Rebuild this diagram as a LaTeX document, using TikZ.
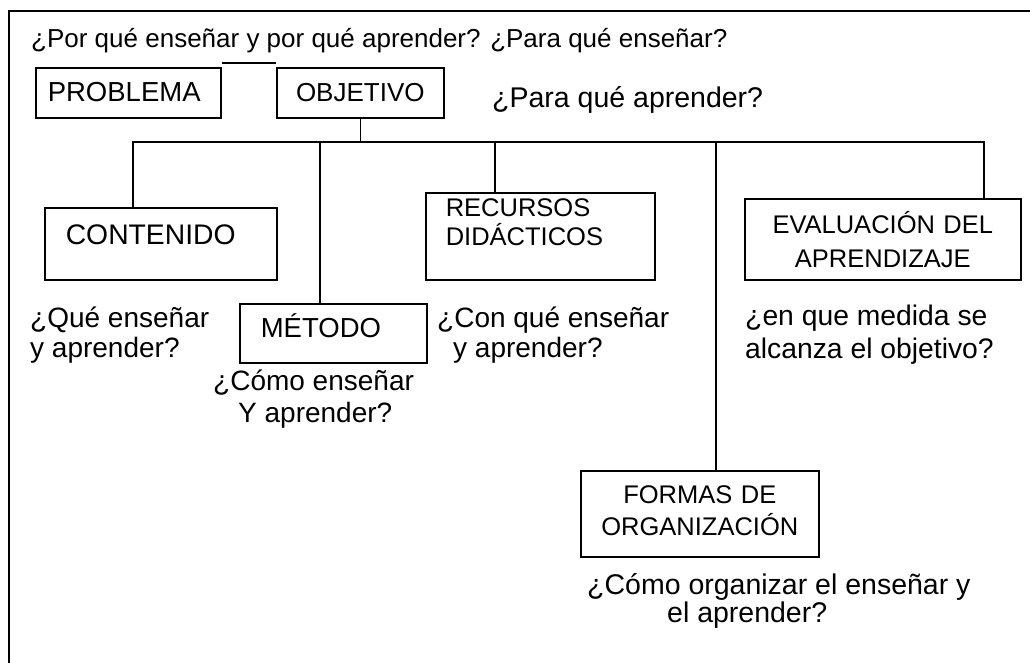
\documentclass[tikz,border=0pt]{standalone}
\usepackage{fontspec}
\setmainfont{Liberation Sans}
\newcommand\fsz[2]{\fontsize{#1}{#2}\selectfont}
\begin{document}
\begin{tikzpicture}[x=1pt,y=-1pt,
  box/.style={draw, line width=1.6pt, inner ysep=0pt, anchor=north west},
  qtext/.style={inner sep=0pt, anchor=base west, align=left},
  link/.style={line width=1.6pt},
  frame/.style={line width=2.2pt}]
\useasboundingbox (0,0) rectangle (1030,662);
\fill[white] (0,0) rectangle (1030,662);
\begin{scope}
\clip (0,0) rectangle (1030,662);
\draw[frame] (9,680) -- (9,11) -- (1045,11);
\end{scope}

% title texts
\node[qtext, font=\fsz{26}{30}] (title) at (31,47) {¿Por qué enseñar y por qué aprender? ¿Para qué enseñar?};
\node[qtext, font=\fsz{28.5}{32}] (para) at (492,107) {¿Para qué aprender?};

% boxes
\node[box, font=\fsz{27.5}{32}, inner xsep=12pt, text width=161pt, align=left, text height=34pt, text depth=16pt] (prob) at (35,67) {PROBLEMA};
\node[box, font=\fsz{26}{30}, inner xsep=0pt, text width=167pt, align=center, text height=34pt, text depth=16pt] (obj) at (276,67) {OBJETIVO};
\node[box, font=\fsz{28.3}{32}, inner xsep=21pt, text width=190pt, align=left, text height=37pt, text depth=35pt] (cont) at (44,207) {CONTENIDO};
\node[box, font=\fsz{27.5}{32}, inner xsep=21pt, text width=145pt, align=left, text height=34pt, text depth=25pt] (met) at (239,303) {MÉTODO};
\node[box, font=\fsz{25.5}{29}, inner xsep=20pt, text width=189pt, align=left, text height=24pt, text depth=63pt] (rec) at (425,192) {RECURSOS\\DIDÁCTICOS};
\node[box, font=\fsz{25.5}{34}, inner xsep=0pt, text width=276pt, align=center, text height=35pt, text depth=46pt] (eval) at (744,198) {EVALUACIÓN DEL\\APRENDIZAJE};
\node[box, font=\fsz{25.5}{32}, inner xsep=0pt, text width=238pt, align=center, text height=33pt, text depth=53pt] (form) at (580,470) {FORMAS DE\\ORGANIZACIÓN};

% question texts (anchor = baseline of the last line)
\node[qtext, font=\fsz{28}{30}] (qque) at (30,357) {¿Qué enseñar\\y aprender?};
\node[qtext, font=\fsz{28}{32}] (qcomo) at (213,422) {¿Cómo enseñar\\\hspace*{25pt}Y aprender?};
\node[qtext, font=\fsz{28}{30}] (qcon) at (437,357) {¿Con qué enseñar\\\hspace*{16pt}y aprender?};
\node[qtext, font=\fsz{28.3}{33}] (qmed) at (745,358) {¿en que medida se\\alcanza el objetivo?};
\node[qtext, font=\fsz{28.5}{28}] (qorg) at (587,622) {¿Cómo organizar el enseñar y\\\hspace*{80pt}el aprender?};

% connectors
\draw[link] ([yshift=4pt]prob.north east) -- ([yshift=4pt]obj.north west);
\coordinate (busL) at (133,142);
\coordinate (busR) at (984,142);
\coordinate (bMet) at (320,142);
\coordinate (bRec) at (495,142);
\coordinate (bForm) at (716,142);
\draw[link] (obj.south) -- (obj.south |- busL);
\draw[link] (cont.north -| busL) -- (busL) -- (busR) -- (eval.north -| busR);
\draw[link] (bMet) -- (met.north -| bMet);
\draw[link] (bRec) -- (rec.north -| bRec);
\draw[link] (bForm) -- (form.north -| bForm);
\end{tikzpicture}
\end{document}
